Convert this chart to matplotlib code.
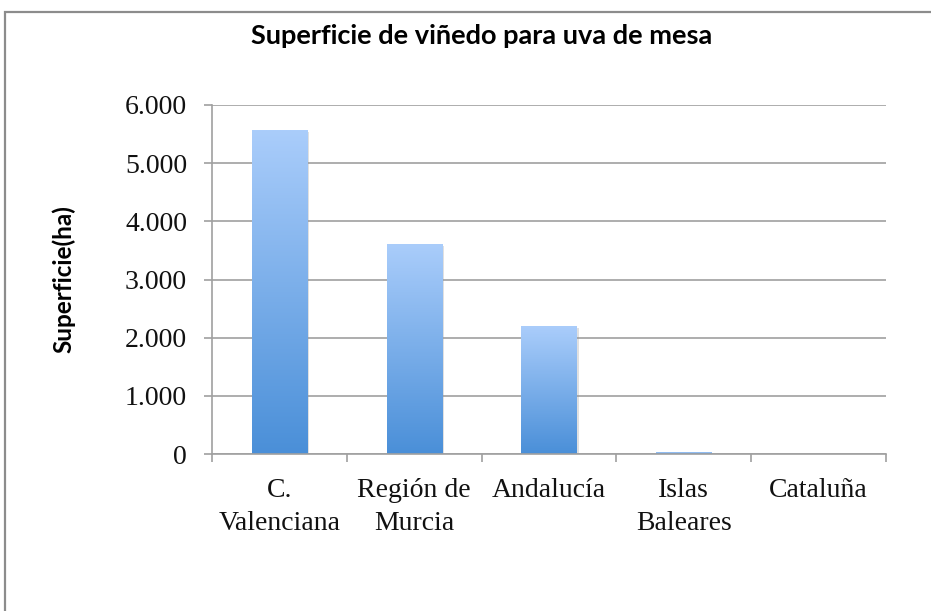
import matplotlib
matplotlib.use("Agg")
import matplotlib.pyplot as plt
import numpy as np
from matplotlib.patches import Rectangle
from matplotlib.colors import LinearSegmentedColormap
import matplotlib.patheffects as pe
from matplotlib.ticker import FuncFormatter, FixedLocator

categories = ["C.\nValenciana", "Región de\nMurcia", "Andalucía", "Islas\nBaleares", "Cataluña"]
values = [5570, 3610, 2200, 30, 3]
yticks = [0, 1000, 2000, 3000, 4000, 5000, 6000]
title = "Superficie de viñedo para uva de mesa"
ylabel = "Superficie(ha)"

W, H = 931, 611
fig = plt.figure(figsize=(W / 100, H / 100), dpi=100)
fig.patch.set_facecolor("white")

# outer chart border
fig.patches.append(Rectangle((5 / W, -0.1), 2, 1.1 - 12 / H, transform=fig.transFigure,
                             fill=False, edgecolor="#8c8c8c", lw=1.6, zorder=0))

ax = fig.add_axes([212 / W, 1 - 454 / H, (886 - 212) / W, (454 - 105) / H])
x = np.arange(len(categories))
cmap = LinearSegmentedColormap.from_list("g", ["#4a8fd8", "#aacdfb"])
grad = np.linspace(0, 1, 256).reshape(-1, 1)

bars = ax.bar(x, values, width=0.41, color="#7aaeea", zorder=3,
              path_effects=[pe.SimplePatchShadow(offset=(1.5, -1.5), shadow_rgbFace="#999999", alpha=0.3), pe.Normal()])
for b in bars:
    x0, w, h = b.get_x(), b.get_width(), b.get_height()
    im = ax.imshow(grad, cmap=cmap, origin="lower", aspect="auto",
                   extent=(x0, x0 + w, 0, h), zorder=4, interpolation="bilinear")
    im.set_clip_path(b)

ax.set_xlim(-0.5, len(categories) - 0.5)
ax.set_ylim(0, 6000)
ax.set_yticks(yticks)
ax.yaxis.set_major_formatter(FuncFormatter(lambda v, p: f"{int(v):,}".replace(",", ".")))
ax.set_xticks(x)
ax.set_xticklabels(categories, linespacing=1.45)
ax.xaxis.set_minor_locator(FixedLocator(np.arange(-0.5, len(categories), 1.0)))

gc = "#a0a0a0"
ax.grid(axis="y", color=gc, lw=1.2, zorder=1)
for s in ["top", "right"]:
    ax.spines[s].set_visible(False)
for s in ["left", "bottom"]:
    ax.spines[s].set_color(gc)
    ax.spines[s].set_linewidth(1.2)
ax.spines["left"].set_zorder(2)
ax.spines["bottom"].set_zorder(5)

serif = "Liberation Serif"
ax.tick_params(axis="y", length=6, width=1.2, color=gc, pad=12, labelsize=20)
ax.tick_params(axis="x", which="major", length=0, pad=17, labelsize=20)
ax.tick_params(axis="x", which="minor", length=6, width=1.2, color=gc)
for lbl in ax.get_xticklabels() + ax.get_yticklabels():
    lbl.set_fontfamily(serif)
    lbl.set_color("#111111")
for lbl in ax.get_xticklabels():
    lbl.set_verticalalignment("top")

fig.text(482 / W, 1 - 44 / H, title, ha="center", va="baseline", fontsize=19.5,
         fontweight="bold", family="Lato")
fig.text(64 / W, 1 - 279 / H, ylabel, ha="center", va="center", rotation=90,
         fontsize=17.5, fontweight="bold", family="Lato")

fig.savefig("out.png", dpi=100, facecolor="white")
